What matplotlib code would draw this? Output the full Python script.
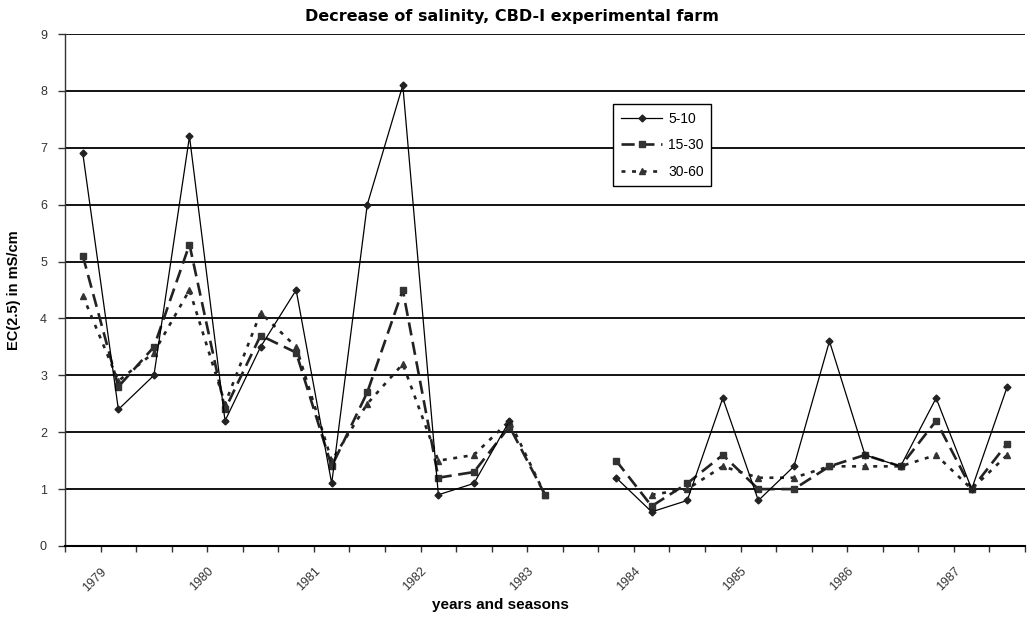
#!/usr/bin/env python3
"""
Salinity decrease at the CBD-I experimental farm.

EC(2.5) per sampling season for three soil depths (cm), 1979-1987.
"""

import numpy as np
import matplotlib.pyplot as plt

nan = np.nan

# Three sampling seasons per year; gaps are missing samples
years = ['1979', '1980', '1981', '1982', '1983', '1984', '1985', '1986', '1987']
n_seasons = 27

depth_labels = ['5-10', '15-30', '30-60']

ec_5_10 = [6.9, 2.4, 3.0, 7.2, 2.2, 3.5, 4.5, 1.1, 6.0, 8.1, 0.9, 1.1, 2.2, nan,
           nan, 1.2, 0.6, 0.8, 2.6, 0.8, 1.4, 3.6, 1.6, 1.4, 2.6, 1.0, 2.8]
ec_15_30 = [5.1, 2.8, 3.5, 5.3, 2.4, 3.7, 3.4, 1.4, 2.7, 4.5, 1.2, 1.3, 2.1, 0.9,
            nan, 1.5, 0.7, 1.1, 1.6, 1.0, 1.0, 1.4, 1.6, 1.4, 2.2, 1.0, 1.8]
ec_30_60 = [4.4, 2.9, 3.4, 4.5, 2.5, 4.1, 3.5, 1.5, 2.5, 3.2, 1.5, 1.6, 2.2, 0.9,
            nan, nan, 0.9, 1.0, 1.4, 1.2, 1.2, 1.4, 1.4, 1.4, 1.6, 1.0, 1.6]

plt.rcParams['font.family'] = ['Liberation Sans', 'DejaVu Sans']

fig = plt.figure(figsize=(10.34, 6.21), dpi=100)
ax = fig.add_axes([0.0629, 0.1208, 0.9284, 0.8244])

x = np.arange(n_seasons)

ax.plot(x, ec_5_10, color='black', lw=0.9, marker='D', ms=3.5,
        mfc='#222222', mec='#222222', label=depth_labels[0], zorder=5)
ax.plot(x, ec_15_30, color='#222222', lw=1.9, dashes=(5, 2.5), marker='s', ms=5,
        mfc='#333333', mec='#333333', label=depth_labels[1], zorder=4)
ax.plot(x, ec_30_60, color='#222222', lw=1.9, dashes=(1.5, 2.5), marker='^', ms=5,
        mfc='#333333', mec='#333333', label=depth_labels[2], zorder=3)

# Axes
ax.set_xlim(-0.5, n_seasons - 0.5)
ax.set_ylim(0, 9)
ax.set_yticks(range(0, 10))
ax.yaxis.grid(True, color='black', lw=1.3)
ax.set_axisbelow(True)

for side in ('top', 'right'):
    ax.spines[side].set_visible(False)
ax.spines['left'].set_color('#333333')
ax.spines['left'].set_linewidth(1.0)
ax.spines['bottom'].set_color('black')
ax.spines['bottom'].set_linewidth(1.5)

# Tick marks on season boundaries (minor), year labels every third boundary (major)
bounds = np.arange(-0.5, n_seasons, 1.0)
label_pos = [0.5 + 3 * i + 0.12 for i in range(len(years))]
ax.set_xticks(bounds, minor=True)
ax.set_xticks(label_pos)
ax.set_xticklabels(years, rotation=45, ha='right', va='center',
                   rotation_mode='anchor', fontsize=9, color='#333333')
ax.tick_params(axis='x', which='major', length=0, pad=17)
ax.tick_params(axis='x', which='minor', length=4, width=1, direction='out',
               colors='#333333')
ax.tick_params(axis='y', length=5, width=1, direction='out', labelsize=9,
               colors='#333333', pad=8)

fig.text(500 / 1034, 1 - 605 / 621, 'years and seasons', fontsize=11,
         fontweight='bold', ha='center', va='center')
ax.set_ylabel('EC(2.5) in mS/cm', fontsize=10.5, fontweight='bold', labelpad=14)
fig.text(512 / 1034, 1 - 17 / 621, 'Decrease of salinity, CBD-I experimental farm',
         fontsize=11.5, fontweight='bold', ha='center', va='center',
         family='DejaVu Sans')

leg = ax.legend(loc='upper left', bbox_to_anchor=(0.571, 0.863), fontsize=10,
                frameon=True, fancybox=False, edgecolor='black', framealpha=1,
                handlelength=3.0, borderpad=0.55, labelspacing=0.9,
                handletextpad=0.4, borderaxespad=0)
leg.get_frame().set_linewidth(1.0)

plt.savefig('out.png', dpi=100, facecolor='white')
plt.close(fig)
